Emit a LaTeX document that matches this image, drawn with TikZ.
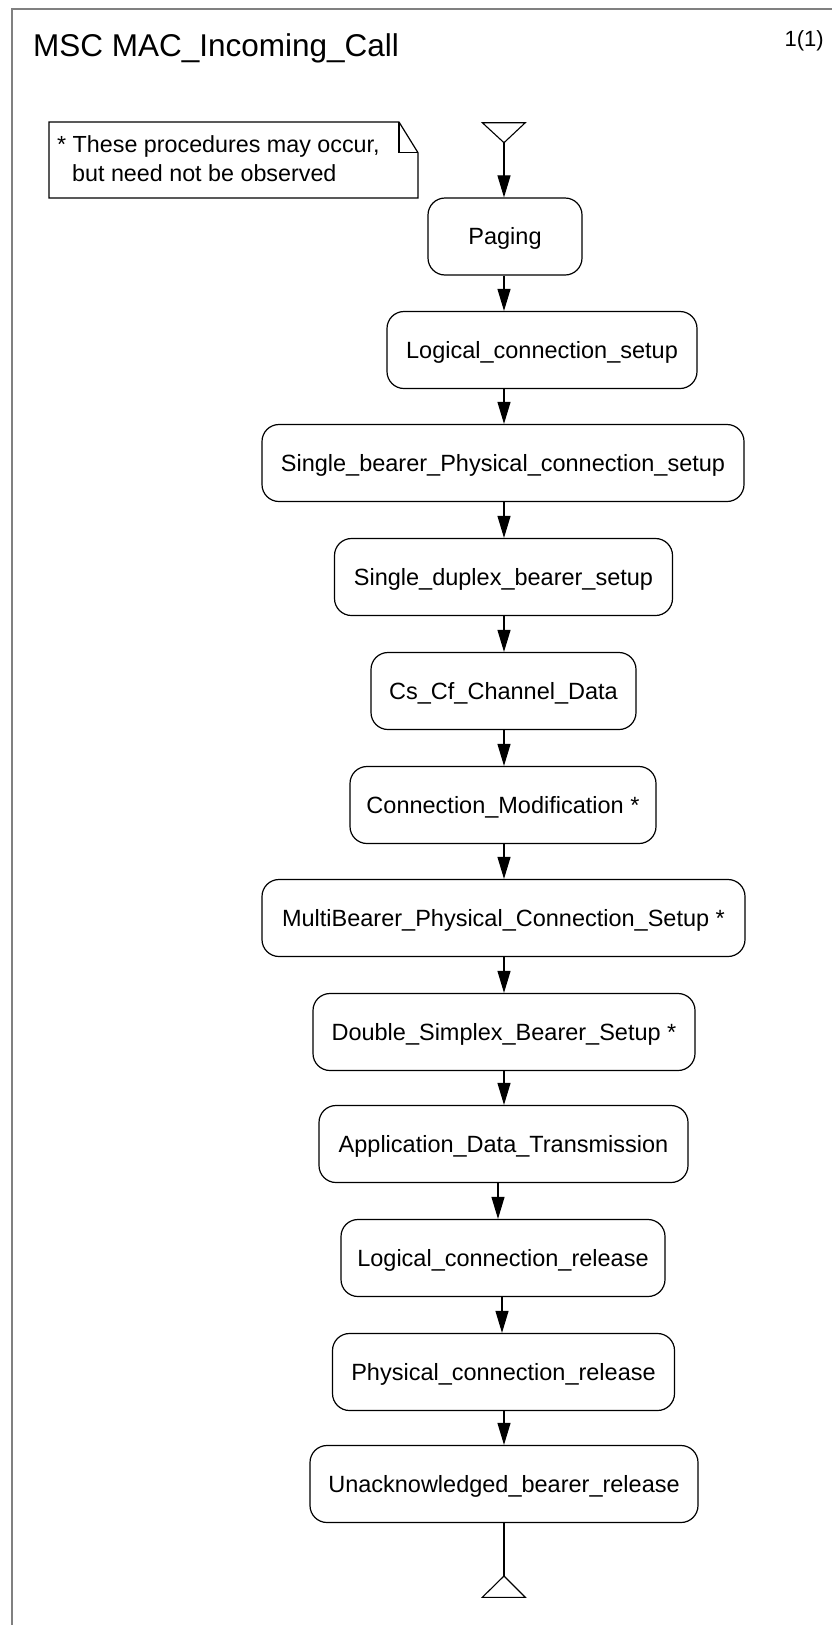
\documentclass[tikz,border=0pt]{standalone}
\usepackage{fontspec}
\setmainfont{Liberation Sans}
\usetikzlibrary{arrows.meta}
\begin{document}
\begin{tikzpicture}[x=1pt,y=-1pt,
  proc/.style={draw, line width=1.2pt, rounded corners=17pt, minimum height=77pt,
    inner sep=0pt, text height=16.8pt, text depth=0pt,
    font=\fontsize{23.5}{28}\selectfont},
  flow/.style={line width=1.1pt, -{Triangle[length=22pt,width=13pt]}},
  plain/.style={line width=1.1pt},
  frame/.style={line width=2pt, draw=black!50},
  notetext/.style={anchor=base west, inner sep=0pt, font=\fontsize{23.3}{28}\selectfont},
  ]
\useasboundingbox (0,0) rectangle (832,1625);

% diagram frame (open to the right and bottom)
\draw[frame] (12,1625) -- (12,8.5) -- (832,8.5);

% heading
\node[anchor=base west, inner sep=0pt, font=\fontsize{31.5}{36}\selectfont] (title) at (33,56) {MSC MAC\_Incoming\_Call};
\node[anchor=base east, inner sep=0pt, font=\fontsize{22}{26}\selectfont] (page) at (824,46) {1(1)};

% comment symbol
\draw[line width=1.2pt] (49,122) -- (399,122) -- (418,152.7) -- (418,198) -- (49,198) -- cycle;
\draw[line width=1.2pt] (399,122) -- (399,152.7) -- (418,152.7);
\node[notetext] (note1) at (57,152.7) {* These procedures may occur,};
\node[notetext] (note2) at (72,181.7) {but need not be observed};

% flow axis (the lower part of the flow sits slightly to the left)
\coordinate (ax) at (504,0);
\coordinate (axa) at (498,0);
\coordinate (axb) at (502,0);

% start symbol
\draw[line width=1.1pt] (482.3,122.7) -- (525.3,122.7) -- (504,142.7) -- cycle;
\coordinate (start) at (504,142.7);

% procedure references
\node[proc, minimum width=154pt] (paging)  at (505,236.5) {Paging};
\node[proc, minimum width=310pt] (lcs)     at (542,350)   {Logical\_connection\_setup};
\node[proc, minimum width=482pt] (sbpcs)   at (503,463)   {Single\_bearer\_Physical\_connection\_setup};
\node[proc, minimum width=338pt] (sdbs)    at (503.5,577) {Single\_duplex\_bearer\_setup};
\node[proc, minimum width=265pt] (cscf)    at (503.5,691) {Cs\_Cf\_Channel\_Data};
\node[proc, minimum width=306pt] (cmod)    at (503,805)   {Connection\_Modification *};
\node[proc, minimum width=483pt] (mbpcs)   at (503.5,918) {MultiBearer\_Physical\_Connection\_Setup *};
\node[proc, minimum width=382pt] (dsbs)    at (504,1032)  {Double\_Simplex\_Bearer\_Setup *};
\node[proc, minimum width=369pt] (adt)     at (503.5,1144){Application\_Data\_Transmission};
\node[proc, minimum width=324pt] (lcr)     at (503,1258)  {Logical\_connection\_release};
\node[proc, minimum width=342pt] (pcr)     at (503.5,1372){Physical\_connection\_release};
\node[proc, minimum width=388pt] (ubr)     at (504,1484)  {Unacknowledged\_bearer\_release};

% connectors
\draw[flow] (start) -- (paging.north -| ax);
\draw[flow] (paging.south -| ax) -- (lcs.north -| ax);
\draw[flow] (lcs.south -| ax) -- (sbpcs.north -| ax);
\draw[flow] (sbpcs.south -| ax) -- (sdbs.north -| ax);
\draw[flow] (sdbs.south -| ax) -- (cscf.north -| ax);
\draw[flow] (cscf.south -| ax) -- (cmod.north -| ax);
\draw[flow] (cmod.south -| ax) -- (mbpcs.north -| ax);
\draw[flow] (mbpcs.south -| ax) -- (dsbs.north -| ax);
\draw[flow] (dsbs.south -| ax) -- (adt.north -| ax);
\draw[flow] (adt.south -| axa) -- (lcr.north -| axa);
\draw[flow] (lcr.south -| axb) -- (pcr.north -| axb);
\draw[flow] (pcr.south -| ax) -- (ubr.north -| ax);

% end symbol
\coordinate (stop) at (504,1576);
\draw[plain] (ubr.south -| ax) -- (stop);
\draw[line width=1.1pt] (stop) -- (525.3,1597.3) -- (482.3,1597.3) -- cycle;
\end{tikzpicture}
\end{document}
